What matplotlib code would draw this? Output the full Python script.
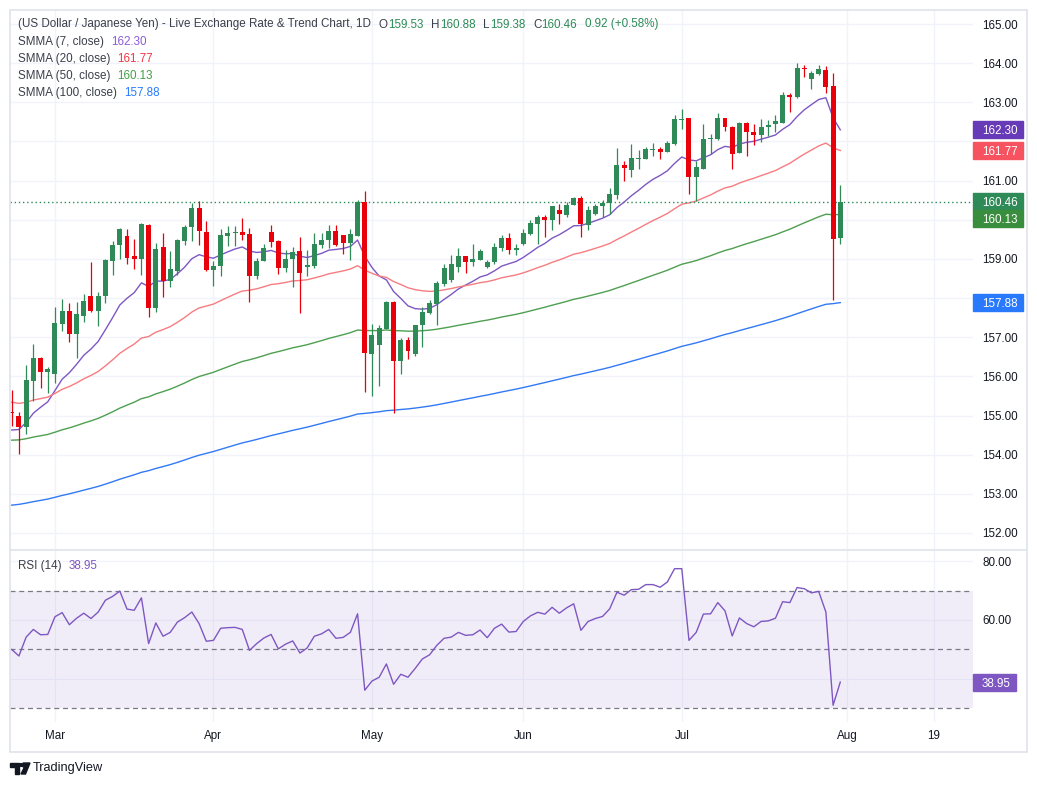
import matplotlib.pyplot as plt
import matplotlib.patches as mpatches
from matplotlib.lines import Line2D
import numpy as np
import pandas as pd

plt.rcParams['font.family'] = ['Liberation Sans', 'DejaVu Sans']

W, H = 1037, 786

# daily candles, 20 Feb - 31 Jul 2026
dates = pd.bdate_range('2026-02-20', '2026-07-31')

opens = [155.10, 154.98, 154.71, 155.89, 156.47, 156.12, 156.06, 157.34, 157.67, 157.09,
         157.55, 158.05, 157.67, 158.06, 158.95, 159.35, 159.58, 159.07, 159.00, 159.86,
         157.75, 159.30, 158.44, 158.70, 159.46, 159.82, 160.30, 159.69, 158.72, 158.83,
         159.59, 159.65, 159.69, 159.63, 158.57, 158.95, 159.69, 159.46, 158.77, 159.00,
         159.20, 158.80, 158.83, 159.36, 159.48, 159.71, 159.61, 159.41, 159.59, 160.46,
         156.56, 156.79, 157.21, 157.89, 156.38, 156.93, 156.57, 157.30, 157.62, 157.85,
         158.36, 158.46, 158.80, 159.08, 158.91, 158.96, 158.80, 158.91, 159.28, 159.54,
         159.24, 159.38, 159.64, 159.89, 160.08, 160.00, 160.25, 160.12, 160.37, 160.56,
         159.87, 160.15, 160.34, 160.43, 160.64, 161.40, 161.26, 161.54, 161.55, 161.79,
         161.81, 161.74, 161.93, 162.55, 162.59, 161.09, 161.29, 162.06, 162.06, 162.59,
         162.38, 161.70, 162.47, 162.25, 162.16, 162.38, 162.44, 162.48, 163.19, 163.14,
         163.88, 163.59, 163.72, 163.82, 163.41, 159.53]
highs = [155.65, 155.08, 156.29, 156.83, 156.50, 156.25, 157.78, 157.97, 157.87, 157.89,
         158.10, 158.92, 158.15, 159.00, 159.46, 159.78, 159.76, 159.50, 159.91, 159.89,
         159.40, 159.66, 159.20, 159.50, 159.86, 160.43, 160.47, 159.98, 158.95, 159.76,
         159.84, 159.84, 160.04, 159.78, 159.03, 159.38, 159.86, 159.48, 159.23, 159.31,
         159.56, 159.23, 159.66, 159.66, 159.86, 159.86, 159.61, 159.76, 160.51, 160.73,
         157.33, 157.31, 157.92, 157.92, 156.97, 157.00, 157.30, 157.76, 157.96, 158.44,
         158.87, 159.10, 159.28, 159.08, 159.37, 159.26, 158.97, 159.41, 159.60, 159.66,
         159.38, 159.77, 160.00, 160.11, 160.11, 160.36, 160.40, 160.45, 160.59, 160.61,
         160.36, 160.41, 160.51, 160.80, 161.83, 161.49, 161.94, 161.77, 161.87, 161.96,
         161.87, 162.00, 162.67, 162.84, 162.61, 161.50, 162.44, 162.18, 162.72, 162.59,
         162.40, 162.49, 162.50, 162.44, 162.57, 162.55, 162.68, 163.27, 163.25, 164.00,
         163.96, 163.80, 163.95, 163.93, 163.74, 160.88]
lows = [154.74, 154.02, 154.53, 155.38, 155.70, 155.57, 155.83, 157.17, 156.89, 156.47,
        157.40, 157.65, 157.29, 157.88, 158.60, 159.00, 158.87, 158.74, 158.60, 157.52,
        157.65, 158.03, 158.29, 158.60, 159.35, 159.46, 159.36, 158.68, 158.30, 158.57,
        159.34, 159.34, 159.48, 157.91, 158.49, 158.95, 159.31, 158.61, 158.67, 158.29,
        157.63, 158.57, 158.76, 159.27, 159.29, 159.34, 159.12, 158.98, 159.59, 155.60,
        155.51, 155.75, 157.21, 155.06, 156.05, 156.45, 156.52, 156.76, 157.60, 157.31,
        158.32, 158.42, 158.66, 158.63, 158.83, 158.96, 158.77, 158.87, 159.21, 159.13,
        159.11, 159.36, 159.61, 159.38, 159.55, 159.75, 159.88, 160.06, 160.37, 159.57,
        159.74, 160.11, 160.08, 160.15, 160.53, 161.00, 161.10, 161.30, 161.55, 161.64,
        161.55, 161.72, 161.91, 162.31, 160.65, 160.48, 161.29, 161.67, 162.04, 162.27,
        161.29, 161.70, 161.63, 161.91, 161.99, 162.14, 162.23, 162.46, 162.74, 163.12,
        163.65, 163.34, 163.69, 163.23, 157.96, 159.38]
closes = [155.06, 154.71, 155.91, 156.47, 156.12, 156.19, 157.36, 157.67, 157.09, 157.59,
          157.92, 157.67, 158.05, 158.98, 159.35, 159.76, 159.03, 159.00, 159.89, 157.74,
          159.25, 158.44, 158.74, 159.48, 159.81, 160.30, 159.72, 158.72, 158.81, 159.61,
          159.65, 159.69, 159.62, 158.57, 158.95, 159.28, 159.43, 158.77, 159.00, 159.18,
          158.65, 158.84, 159.38, 159.48, 159.71, 159.36, 159.41, 159.63, 160.46, 156.59,
          157.06, 157.24, 157.89, 156.38, 156.93, 156.66, 157.30, 157.64, 157.87, 158.38,
          158.77, 158.86, 159.08, 158.93, 159.00, 159.20, 158.92, 159.31, 159.54, 159.24,
          159.28, 159.66, 159.92, 160.08, 160.00, 160.34, 160.15, 160.38, 160.56, 159.89,
          160.25, 160.36, 160.43, 160.66, 161.40, 161.31, 161.58, 161.58, 161.81, 161.81,
          161.74, 161.96, 162.57, 162.58, 161.09, 161.36, 162.07, 162.10, 162.59, 162.37,
          161.67, 162.47, 162.24, 162.16, 162.38, 162.41, 162.51, 163.18, 163.14, 163.87,
          163.85, 163.74, 163.85, 163.39, 159.52, 160.46]

rsi = [50.0, 47.8, 54.2, 56.8, 55.0, 55.1, 61.1, 62.5, 58.4, 60.6,
       62.3, 60.5, 62.7, 66.7, 68.0, 69.8, 63.7, 63.3, 67.5, 52.0,
       59.0, 54.5, 55.8, 59.3, 60.8, 62.7, 58.8, 52.8, 53.1, 57.2,
       57.4, 57.5, 56.8, 49.7, 52.0, 53.9, 55.1, 50.2, 51.8, 52.9,
       48.8, 50.5, 54.5, 55.3, 56.8, 53.8, 54.1, 55.8, 62.1, 36.2,
       39.3, 40.6, 45.1, 38.2, 41.6, 40.6, 43.6, 46.8, 48.2, 51.4,
       53.8, 54.2, 55.8, 54.8, 55.0, 56.6, 54.0, 57.2, 58.6, 55.9,
       56.1, 59.5, 61.4, 62.6, 62.0, 64.3, 62.3, 64.1, 65.5, 56.5,
       59.5, 60.5, 61.2, 63.8, 69.4, 68.4, 70.3, 70.4, 72.0, 72.0,
       71.1, 72.9, 77.4, 77.4, 53.1, 55.8, 62.0, 62.1, 65.9, 63.1,
       54.6, 60.7, 58.8, 57.7, 59.5, 59.7, 60.6, 66.2, 65.9, 71.0,
       70.6, 69.2, 69.7, 62.7, 31.1, 38.95]

smma_periods = [7, 20, 50, 100]
smma_first = [154.63, 155.34, 154.37, 152.71]   # value at the first visible bar
smma_labels = ['162.30', '161.77', '160.13', '157.88']
smma_line_colors = ['#7e57c2', '#f77c80', '#4e9f50', '#3179f5']
smma_text_colors = ['#8a5cd8', '#f23645', '#43a047', '#2979ff']
smma_tag_colors = ['#673ab7', '#f7525f', '#388e3c', '#2979ff']

up_col, down_col = '#2e8b57', '#e8000b'
grid_col = '#f0f3fa'
text_col = '#131722'
fs = 8.4


def smma(values, n, first):
    out = [first]
    for v in values[1:]:
        out.append((out[-1] * (n - 1) + v) / n)
    return np.array(out)


x = np.arange(len(dates))
o, h, l, c = map(np.array, (opens, highs, lows, closes))
cols = np.where(c >= o, up_col, down_col)

fig = plt.figure(figsize=(W / 100, H / 100), dpi=100)
ax = fig.add_axes([10 / W, 1 - 549 / H, 963 / W, 539 / H])
ax2 = fig.add_axes([10 / W, 1 - 722 / H, 963 / W, 172 / H], sharex=ax)

# time axis ticks: month starts + Aug 19
axis_days = pd.bdate_range(dates[0], '2026-08-31')
month_start = [i for i in range(1, len(axis_days)) if axis_days[i].month != axis_days[i - 1].month]
tick_pos = month_start + [list(axis_days).index(pd.Timestamp('2026-08-19'))]
tick_lab = [axis_days[i].strftime('%b') for i in month_start] + ['19']

# --- price pane
ax.vlines(x, l, h, colors=cols, lw=0.9, zorder=3)
ax.bar(x, np.maximum(np.abs(c - o), 0.03), bottom=np.minimum(o, c), width=0.69,
       color=cols, linewidth=0, zorder=3)

smma_vals = []
for n, first, col in zip(smma_periods, smma_first, smma_line_colors):
    s = smma(closes, n, first)
    smma_vals.append(s[-1])
    ax.plot(x, s, color=col, lw=1.0, zorder=2)

ax.axhline(closes[-1], color=up_col, lw=1.0, ls=(0, (1, 2)), zorder=2)

price_ticks = list(range(152, 166))
hidden = (158, 160, 162)   # covered by the value tags in the original
ax.set_ylim(151.59, 165.358)
ax.set_xlim(-0.24, 133.42)
ax.set_yticks(price_ticks)
ax.set_yticklabels(['' if v in hidden else f'{v:.2f}' for v in price_ticks])
ax.yaxis.tick_right()
ax.tick_params(axis='y', length=0, pad=6.5, labelsize=fs, labelcolor=text_col)
ax.tick_params(axis='x', length=0, labelbottom=False)
ax.set_xticks(tick_pos)
ax.grid(color=grid_col, lw=1)
ax.set_axisbelow(True)
for sp in ax.spines.values():
    sp.set_visible(False)

# --- RSI pane
ax2.axhspan(30, 70, color='#7e57c2', alpha=0.1, lw=0)
for lvl in (70, 50, 30):
    ax2.axhline(lvl, color='#787b86', lw=0.9, ls=(0, (4, 3)))
ax2.plot(x, rsi, color='#7e57c2', lw=1.0)
ax2.set_ylim(25.42, 83.73)
ax2.set_yticks([40, 60, 80])
ax2.set_yticklabels(['', '60.00', '80.00'])
ax2.yaxis.tick_right()
ax2.tick_params(axis='y', length=0, pad=6.5, labelsize=fs, labelcolor=text_col)
ax2.set_xticks(tick_pos)
ax2.set_xticklabels(tick_lab)
ax2.tick_params(axis='x', length=0, pad=6, labelsize=fs, labelcolor=text_col)
ax2.grid(color=grid_col, lw=1)
ax2.set_axisbelow(True)
for sp in ax2.spines.values():
    sp.set_visible(False)

renderer = fig.canvas.get_renderer()


def tag(axis, value, label, color, shift=0):
    y = axis.transData.transform((0, value))[1] + shift
    t = fig.text(982 / W, y / H, label, color='white', fontsize=fs,
                 ha='left', va='center_baseline', zorder=6)
    x1 = t.get_window_extent(renderer).x1
    fig.patches.append(mpatches.Rectangle((973 / W, (y - 8.5) / H), (x1 + 5 - 973) / W, 17 / H,
                                          transform=fig.transFigure, color=color, zorder=5))


tag(ax, smma_vals[0], smma_labels[0], smma_tag_colors[0])
tag(ax, smma_vals[1], smma_labels[1], smma_tag_colors[1])
tag(ax, closes[-1], '160.46', up_col)
tag(ax, smma_vals[2], smma_labels[2], smma_tag_colors[2], shift=-4.3)
tag(ax, smma_vals[3], smma_labels[3], smma_tag_colors[3])
tag(ax2, rsi[-1], '38.95', '#7e57c2')


def text_row(x0, y0, parts, size=fs):
    for s, col, gap in parts:
        t = fig.text(x0 / W, 1 - y0 / H, s, color=col, fontsize=size, va='center')
        x0 = t.get_window_extent(renderer).x1 + gap


grey = '#3b3f4a'
text_row(18, 24.5, [('(US Dollar / Japanese Yen) - Live Exchange Rate & Trend Chart, 1D', grey, 8),
                    ('O', grey, 0), ('159.53', up_col, 8), ('H', grey, 0), ('160.88', up_col, 8),
                    ('L', grey, 0), ('159.38', up_col, 8), ('C', grey, 0), ('160.46', up_col, 8),
                    ('0.92 (+0.58%)', up_col, 0)])
for k, (n, yy) in enumerate(zip(smma_periods, [42.3, 59.3, 76, 92.7])):
    text_row(18, yy, [(f'SMMA ({n}, close)', grey, 7), (smma_labels[k], smma_text_colors[k], 0)])
text_row(18, 566, [('RSI (14)', grey, 7), ('38.95', '#7e57c2', 0)])

# frame and pane separator
fig.patches.append(mpatches.Rectangle((9.5 / W, 1 - 751.5 / H), 1017 / W, 742 / H,
                                      transform=fig.transFigure, fill=False,
                                      edgecolor='#e0e3eb', lw=1.2, zorder=7))
fig.add_artist(Line2D([10 / W, 1026 / W], [1 - 549.5 / H] * 2, color='#e0e3eb', lw=1.2))

# TradingView mark
logo = [[(10, 763), (19, 763), (19, 774), (14.5, 774), (14.5, 767), (10, 767)],
        [(23, 763), (30, 763), (25.5, 774), (21, 774), (24.5, 767), (23, 767)]]
for pts in logo:
    fig.patches.append(mpatches.Polygon([(px / W, 1 - py / H) for px, py in pts],
                                        transform=fig.transFigure, color=text_col))
fig.patches.append(mpatches.Circle((21.2 / W, 1 - 765 / H), 1.8 / W,
                                   transform=fig.transFigure, color=text_col))
fig.text(33 / W, 1 - 768.5 / H, 'TradingView', fontsize=9.2, color=text_col, va='center')

fig.savefig('out.png', dpi=100, facecolor='white')
